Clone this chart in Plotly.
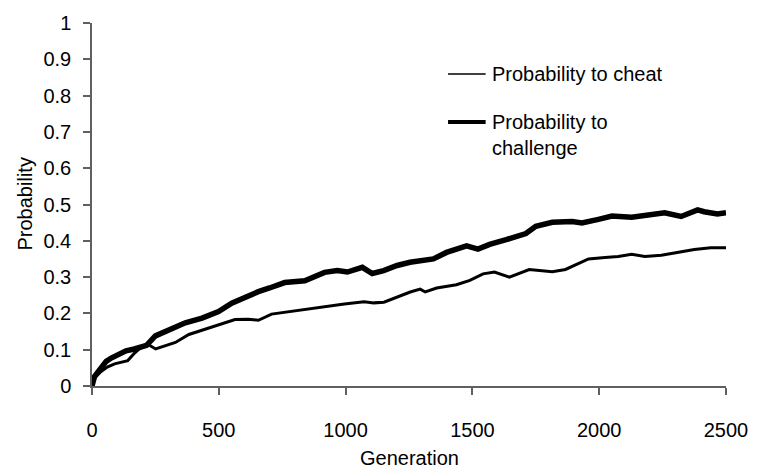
import plotly.graph_objects as go

# Generation values and probabilities
cheat_gen = [0, 10, 36, 60, 89, 120, 141, 167, 186, 205, 225, 251, 290, 329, 382, 447, 512, 564, 616, 656,
             708, 760, 799, 860, 917, 995, 1073, 1111, 1151, 1203, 1255, 1294, 1314, 1359, 1437, 1490,
             1542, 1587, 1607, 1646, 1724, 1815, 1867, 1958, 2023, 2075, 2128, 2180, 2245, 2310, 2375,
             2440, 2500]
cheat_p = [0, 0.022, 0.040, 0.052, 0.061, 0.066, 0.070, 0.090, 0.102, 0.110, 0.113, 0.102, 0.111, 0.120, 0.142,
           0.156, 0.171, 0.183, 0.184, 0.181, 0.198, 0.203, 0.208, 0.213, 0.219, 0.226, 0.232, 0.229,
           0.231, 0.246, 0.259, 0.267, 0.259, 0.270, 0.279, 0.291, 0.309, 0.314, 0.309, 0.300, 0.321,
           0.315, 0.321, 0.350, 0.354, 0.357, 0.363, 0.357, 0.360, 0.369, 0.376, 0.381, 0.381]

chal_gen = [0, 10, 23, 36, 56, 76, 108, 134, 167, 190, 215, 250, 303, 368, 434, 499, 551, 616, 656, 700,
            760, 839, 863, 917, 967, 1007, 1066, 1105, 1150, 1203, 1254, 1300, 1346, 1398, 1437, 1477,
            1522, 1568, 1633, 1711, 1750, 1815, 1893, 1932, 1997, 2050, 2128, 2206, 2258, 2323, 2388,
            2414, 2466, 2500]
chal_p = [0, 0.026, 0.038, 0.050, 0.068, 0.077, 0.086, 0.097, 0.102, 0.106, 0.112, 0.138, 0.156, 0.174,
          0.187, 0.205, 0.228, 0.250, 0.260, 0.270, 0.285, 0.290, 0.297, 0.313, 0.318, 0.314, 0.327,
          0.310, 0.318, 0.332, 0.341, 0.346, 0.350, 0.368, 0.378, 0.386, 0.377, 0.390, 0.403, 0.420,
          0.440, 0.451, 0.453, 0.449, 0.459, 0.468, 0.465, 0.471, 0.477, 0.467, 0.485, 0.480, 0.474,
          0.477]

x_ticks = [0, 500, 1000, 1500, 2000, 2500]
y_ticks = [0, 0.1, 0.2, 0.3, 0.4, 0.5, 0.6, 0.7, 0.8, 0.9, 1]
y_labels = ["0", "0.1", "0.2", "0.3", "0.4", "0.5", "0.6", "0.7", "0.8", "0.9", "1"]
legend_names = ["Probability to cheat", "Probability to<br>challenge"]

FONT = "Arial, 'Liberation Sans', sans-serif"
AXC = "#606060"

fig = go.Figure()
fig.add_trace(go.Scatter(x=cheat_gen, y=cheat_p, mode="lines",
                         line=dict(color="black", width=3), showlegend=False))
fig.add_trace(go.Scatter(x=chal_gen, y=chal_p, mode="lines",
                         line=dict(color="black", width=5.5), showlegend=False))

# manual legend
fig.add_shape(type="line", xref="paper", yref="paper", x0=0.5616, x1=0.6209, y0=0.8595, y1=0.8595,
              line=dict(color="black", width=1.5))
fig.add_shape(type="line", xref="paper", yref="paper", x0=0.5616, x1=0.6209, y0=0.727, y1=0.727,
              line=dict(color="black", width=4))
fig.add_annotation(xref="paper", yref="paper", x=0.6271, y=0.8595, text=legend_names[0],
                   showarrow=False, xanchor="left", yanchor="middle", align="left",
                   font=dict(size=20, color="black", family=FONT))
fig.add_annotation(xref="paper", yref="paper", x=0.6271, y=0.692, text=legend_names[1],
                   showarrow=False, xanchor="left", yanchor="middle", align="left",
                   font=dict(size=20, color="black", family=FONT))

# axis titles
fig.add_annotation(xref="paper", yref="paper", x=0, y=0.5, xshift=-68, text="Probability",
                   textangle=-90, showarrow=False, xanchor="center", yanchor="middle",
                   font=dict(size=20, color="black", family=FONT))
fig.add_annotation(xref="paper", yref="paper", x=0.5, y=0, yshift=-72, text="Generation",
                   showarrow=False, xanchor="center", yanchor="middle",
                   font=dict(size=20, color="black", family=FONT))

fig.update_layout(
    width=760, height=469,
    margin=dict(l=92, r=27, t=16, b=83),
    paper_bgcolor="white", plot_bgcolor="white",
    font=dict(family=FONT, size=20, color="black"),
    xaxis=dict(range=[0, 2500], tickvals=x_ticks, ticktext=[str(v) for v in x_ticks],
               showgrid=False, zeroline=False, showline=True, linecolor=AXC, linewidth=1.5,
               ticks="outside", ticklen=7, tickcolor=AXC, tickwidth=1.5,
               ticklabelstandoff=18, tickfont=dict(size=20, color="black")),
    yaxis=dict(range=[0, 1], tickvals=y_ticks, ticktext=y_labels,
               showgrid=False, zeroline=False, showline=True, linecolor=AXC, linewidth=1.5,
               ticks="outside", ticklen=7, tickcolor=AXC, tickwidth=1.5,
               ticklabelstandoff=8, tickfont=dict(size=20, color="black")),
)

fig.write_html("out.html")
